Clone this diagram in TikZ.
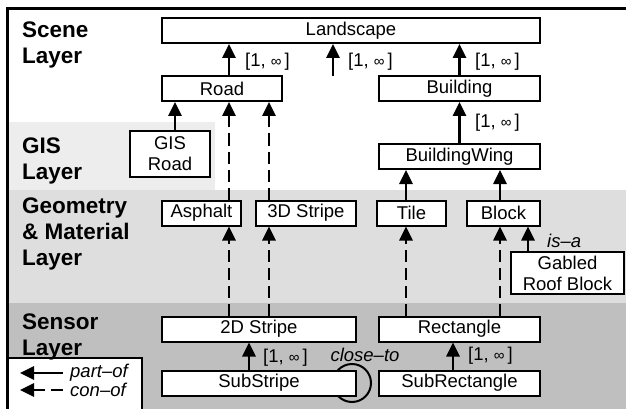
\documentclass[tikz,border=0pt]{standalone}
\usepackage{fontspec}
\setmainfont{Liberation Sans}
\usetikzlibrary{arrows.meta,backgrounds,calc}

\definecolor{gislayer}{gray}{0.93}
\definecolor{geolayer}{gray}{0.87}
\definecolor{sensorlayer}{gray}{0.75}

\newcommand{\oneinf}{[1, {\fontsize{15}{15}\selectfont ∞}\,]}

\begin{document}
\begin{tikzpicture}[x=1pt, y=-1pt,
	entity/.style = {draw=black, fill=white, line width=2pt, inner sep=0pt, minimum height=25pt, align=center, font=\fontsize{18.5}{21}\selectfont},
	layer/.style = {anchor=north west, inner sep=0pt, align=left, font=\fontsize{22.5}{26}\selectfont\bfseries},
	partof/.style = {line width=2.6pt, -{Triangle[length=14pt,width=13pt]}},
	conof/.style = {partof, dash pattern=on 12pt off 6pt},
	mult/.style = {anchor=west, inner sep=0pt, font=\fontsize{18.5}{21}\selectfont},
	rel/.style = {inner sep=0pt, font=\fontsize{18.5}{21}\selectfont\itshape}, ]
	\useasboundingbox (0,0) rectangle (626,409);

	% layer names
	\node [layer] (scene) at (22,22) {Scene\\Layer};
	\node [layer] (gis) at (22,138) {GIS\\Layer};
	\node [layer] (geometry) at (22,198) {Geometry\\\& Material\\Layer};
	\node [layer] (sensor) at (22,314) {Sensor\\Layer};

	% entities
	\node [entity, minimum width=378pt] (landscape) at (351,30.5) {Landscape};
	\node [entity, minimum width=120pt] (road) at (222,88.5) {Road};
	\node [entity, minimum width=161pt] (building) at (459.5,88.5) {Building};
	\node [entity, minimum width=161pt] (wing) at (459.5,156.5) {BuildingWing};
	\node [entity, minimum width=80pt, minimum height=46pt] (gisroad) at (170,154) {GIS\\Road};
	\node [entity, minimum width=79pt] (asphalt) at (201.5,213) {Asphalt};
	\node [entity, minimum width=100pt] (stripe3d) at (306,213) {3D Stripe};
	\node [entity, minimum width=69pt] (tile) at (411.5,213) {Tile};
	\node [entity, minimum width=73pt] (block) at (503.5,213) {Block};
	\node [entity, minimum width=113pt, minimum height=42pt] (gabled) at (567.5,273) {Gabled\\Roof Block};
	\node [entity, minimum width=194pt] (stripe2d) at (259,329) {2D Stripe};
	\node [entity, minimum width=161pt] (rect) at (459.5,329) {Rectangle};
	\node [entity, minimum width=194pt] (substripe) at (259,383) {SubStripe};
	\node [entity, minimum width=161pt] (subrect) at (459.5,383) {SubRectangle};

	% columns of the connectors
	\coordinate (cgis) at (175,0);
	\coordinate (cleft) at (229,0);
	\coordinate (cright) at (269,0);
	\coordinate (csub) at (249,0);
	\coordinate (cfree) at (333,76);
	\coordinate (ctile) at (406,0);
	\coordinate (csubrect) at (453,0);
	\coordinate (cblock) at (500,0);
	\coordinate (cisa) at (528,0);

	\draw [partof] (road.north -| cleft) -- (landscape.south -| cleft);
	\draw [partof] (cfree) -- (landscape.south -| cfree);
	\draw [partof] (building) -- (landscape.south -| building);
	\draw [partof] (wing) -- (building);
	\draw [partof] (gisroad.north -| cgis) -- (road.south -| cgis);
	\draw [conof] (asphalt.north -| cleft) -- (road.south -| cleft);
	\draw [conof] (stripe3d.north -| cright) -- (road.south -| cright);
	\draw [partof] (tile.north -| ctile) -- (wing.south -| ctile);
	\draw [partof] (block.north -| cblock) -- (wing.south -| cblock);
	\draw [partof] (gabled.north -| cisa) -- (block.south -| cisa);
	\draw [conof] (stripe2d.north -| cleft) -- (asphalt.south -| cleft);
	\draw [conof] (stripe2d.north -| cright) -- (stripe3d.south -| cright);
	\draw [conof] (rect.north -| ctile) -- (tile.south -| ctile);
	\draw [conof] (rect.north -| cblock) -- (block.south -| cblock);
	\draw [partof] (substripe.north -| csub) -- (stripe2d.south -| csub);
	\draw [partof] (subrect.north -| csubrect) -- (rect.south -| csubrect);

	% multiplicities and relation names
	\node [mult] (m1) at (245,62) {\oneinf};
	\node [mult] (m2) at (348,62) {\oneinf};
	\node [mult] (m3) at (475,62) {\oneinf};
	\node [mult] (m4) at (475,123) {\oneinf};
	\node [mult] (m5) at (263,358) {\oneinf};
	\node [mult] (m6) at (468,356) {\oneinf};
	\node [rel, anchor=west] (isa) at (547,241) {is–a};
	\node [rel] (closeto) at (365,355) {close–to};

	% legend
	\node [rel, anchor=west] (partlbl) at (70,373) {part–of};
	\node [rel, anchor=west] (conlbl) at (70,390) {con–of};
	\draw [partof] ([xshift=-7pt]partlbl.west) -- ([xshift=-50pt]partlbl.west);
	\draw [conof] ([xshift=-7pt]conlbl.west) -- ([xshift=-50pt]conlbl.west);

	\begin{scope}[on background layer]
		\fill [gislayer] (8,122) rectangle (215,190);
		\fill [geolayer] (8,190) rectangle (626,303);
		\fill [sensorlayer] (8,303) rectangle (626,409);
		\draw [line width=3pt] (7.5,420) -- (7.5,8.5) -- (640,8.5);
		\draw [line width=2pt, fill=white] (8,358) rectangle (142,420);
		\draw [line width=2pt] ([xshift=-5pt]substripe.east) circle (19pt);
	\end{scope}
\end{tikzpicture}
\end{document}
